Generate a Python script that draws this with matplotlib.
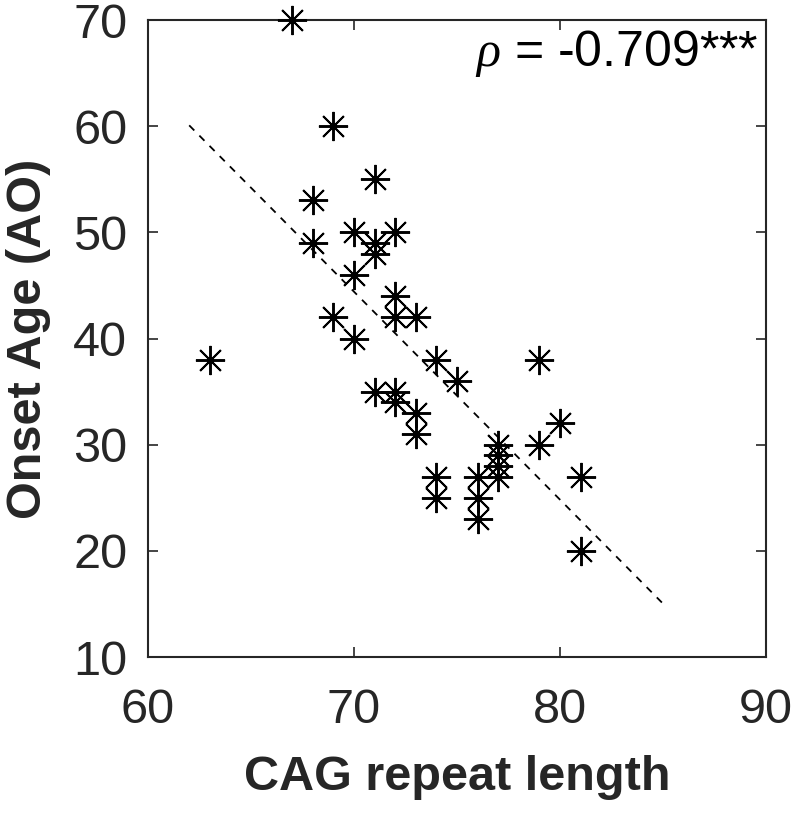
import numpy as np
import matplotlib
matplotlib.use("Agg")
import matplotlib.pyplot as plt

# CAG repeat length vs onset age
cag = [67, 69, 71, 68, 70, 72, 68, 71, 71, 70, 72, 69, 72, 73, 70, 74, 79, 75,
       71, 72, 72, 73, 73, 80, 79, 77, 77, 77, 77, 74, 76, 74, 76, 76, 81, 81, 63]
onset = [70, 60, 55, 53, 50, 50, 49, 49, 48, 46, 44, 42, 42, 42, 40, 38, 38, 36,
         35, 35, 34, 33, 31, 32, 30, 30, 29, 28, 27, 27, 27, 25, 25, 23, 27, 20, 38]
fit_range = [62, 85]
rho_text = r"$\rho$ = -0.709***"

plt.rcParams['font.family'] = ['Liberation Sans', 'DejaVu Sans']
plt.rcParams['mathtext.fontset'] = 'custom'
plt.rcParams['mathtext.it'] = 'Liberation Serif:italic'

fig = plt.figure(figsize=(7.94, 8.13), dpi=100)
ax = fig.add_axes([148/794, 1-657/813, (766-148)/794, (657-20)/813])

ax.plot(cag, onset, linestyle='none', marker=(8, 2, 0), markersize=21,
        markeredgewidth=1.4, color='black', clip_on=False, zorder=3)

# least squares line over the plotted range
slope, icpt = np.polyfit(cag, onset, 1)
xs = np.array(fit_range)
ax.plot(xs, slope*xs + icpt, '--', color='black', linewidth=1.3, dashes=(4, 4))

ax.set_xlim(60, 90)
ax.set_ylim(10, 70)
ax.set_xticks([60, 70, 80, 90])
ax.set_yticks([10, 20, 30, 40, 50, 60, 70])

edge = '#262626'
for s in ax.spines.values():
    s.set_color(edge)
    s.set_linewidth(1.5)
ax.tick_params(direction='in', length=7, width=1.2, color=edge,
               top=True, right=True, labelsize=35, labelcolor=edge)
ax.tick_params(axis='x', pad=22)
ax.tick_params(axis='y', pad=15)

ax.set_xlabel('CAG repeat length', fontsize=35, fontweight='bold', color=edge, labelpad=16)
ax.set_ylabel('Onset Age (AO)', fontsize=35, fontweight='bold', color=edge, labelpad=16)

ax.text(0.988, 0.987, rho_text, transform=ax.transAxes, ha='right', va='top',
        fontsize=36, color='black')

fig.savefig('out.png', dpi=100)
